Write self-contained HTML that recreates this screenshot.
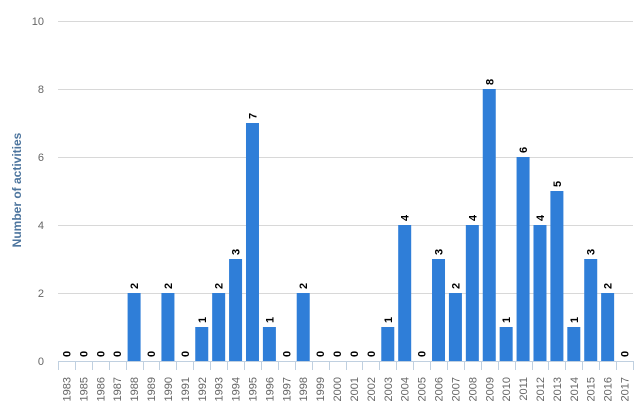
<!DOCTYPE html>
<html><head><meta charset="utf-8"><style>
body{margin:0;background:#fff;}
svg text{font-family:"Liberation Sans",Arial,sans-serif;}
</style></head><body>
<svg width="644" height="412" xmlns="http://www.w3.org/2000/svg" id="c"></svg>
<script>
const svg=document.getElementById('c');
const years=[1983,1985,1986,1987,1988,1989,1990,1991,1992,1993,1994,1995,1996,1997,1998,1999,2000,2001,2002,2003,2004,2005,2006,2007,2008,2009,2010,2011,2012,2013,2014,2015,2016,2017];
const vals=[0,0,0,0,2,0,2,0,1,2,3,7,1,0,2,0,0,0,0,1,4,0,3,2,4,8,1,6,4,5,1,3,2,0];
const x0=58,x1=633,y0=361,unit=34;
const w=(x1-x0)/years.length;
let s='';
for(let v=0;v<=10;v+=2){const y=y0-v*unit;
 if(v>0)s+=`<line x1="${x0}" x2="${x1}" y1="${y+0.5}" y2="${y+0.5}" stroke="#d8d8d8"/>`;
 s+=`<text x="44" y="${y+4}" text-anchor="end" font-size="11" fill="#666">${v}</text>`;}
s+=`<line x1="${x0}" x2="${x1}" y1="${y0+0.5}" y2="${y0+0.5}" stroke="#c0d0e0"/>`;
for(let i=0;i<=years.length;i++){const x=Math.round(x0+i*w)+0.5;
 s+=`<line x1="${x}" x2="${x}" y1="${y0}" y2="${y0+9}" stroke="#c0d0e0"/>`;}
years.forEach((yr,i)=>{const cx=x0+i*w+w/2;const v=vals[i];
 if(v>0)s+=`<rect x="${cx-6.5}" y="${y0-v*unit}" width="13" height="${v*unit}" fill="#2f7ed8"/>`;
 s+=`<text transform="translate(${cx+4},${y0-v*unit-4}) rotate(-90)" font-size="11" font-weight="bold" fill="#000">${v}</text>`;
 s+=`<text transform="translate(${cx+4},${y0+16}) rotate(-90)" text-anchor="end" font-size="11" fill="#666">${yr}</text>`;});
s+=`<text transform="translate(21,190) rotate(-90)" text-anchor="middle" font-size="12" font-weight="bold" fill="#4d759e">Number of activities</text>`;
svg.innerHTML=s;
</script>
</body></html>
